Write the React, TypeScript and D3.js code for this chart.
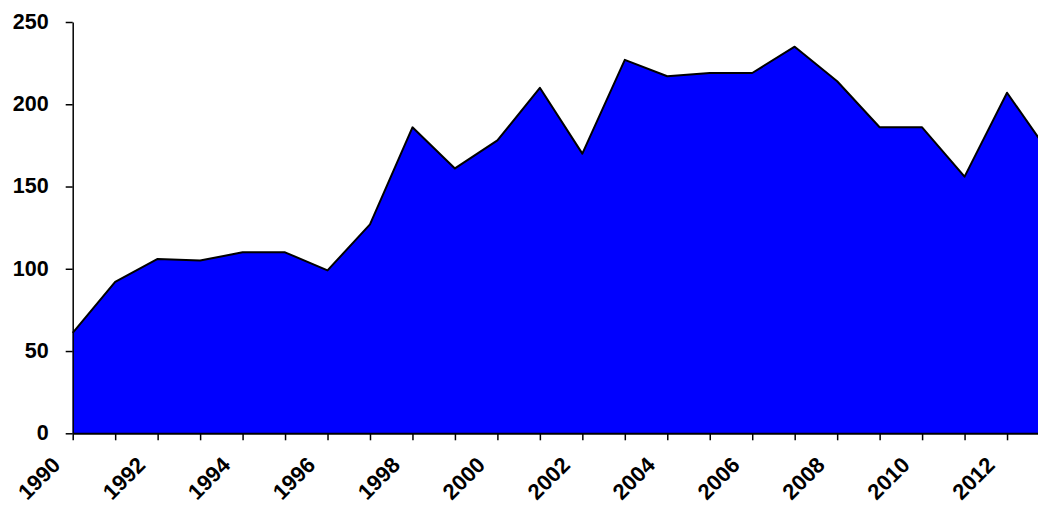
import { useEffect, useRef } from 'react';
import * as d3 from 'd3';

const years = [1990, 1991, 1992, 1993, 1994, 1995, 1996, 1997, 1998, 1999, 2000, 2001,
  2002, 2003, 2004, 2005, 2006, 2007, 2008, 2009, 2010, 2011, 2012, 2013];
const values = [61, 92, 106, 105, 110, 110, 99, 127, 186, 161, 178, 210,
  170, 227, 217, 219, 219, 235, 214, 186, 186, 156, 207, 170];
const yTicks = [0, 50, 100, 150, 200, 250];
const xLabels = [1990, 1992, 1994, 1996, 1998, 2000, 2002, 2004, 2006, 2008, 2010, 2012];

const App = () => {
  const svgRef = useRef<SVGSVGElement>(null);

  useEffect(() => {
    if (!svgRef.current) return;
    const svg = d3.select(svgRef.current);
    svg.selectAll('*').remove();

    const font = '"Liberation Sans", Arial, sans-serif';
    const left = 72.7;
    const step = 42.47;

    // x runs past the right edge, the last year gets clipped like the original
    const x = d3.scaleLinear()
      .domain([1990, 2013])
      .range([left, left + step * 23]);
    const y = d3.scaleLinear().domain([0, 250]).range([433.3, 22]);

    const area = d3.area<number>()
      .x((_, i) => x(years[i]))
      .y0(y(0))
      .y1(d => y(d));
    const line = d3.line<number>()
      .x((_, i) => x(years[i]))
      .y(d => y(d));

    svg.append('path')
      .attr('d', area(values) || '')
      .attr('fill', '#0000ff');
    svg.append('path')
      .attr('d', line(values) || '')
      .attr('fill', 'none')
      .attr('stroke', '#000')
      .attr('stroke-width', 2)
      .attr('stroke-linejoin', 'round');

    // y axis
    const yAxis = svg.append('g')
      .attr('transform', `translate(${left},0)`)
      .call(d3.axisLeft(y).tickValues(yTicks).tickSize(7).tickPadding(17).tickSizeOuter(0));
    yAxis.select('.domain').attr('stroke', '#000').attr('stroke-width', 1.5);
    yAxis.selectAll('.tick line').attr('stroke', '#000').attr('stroke-width', 1.5);
    yAxis.selectAll('.tick text')
      .attr('fill', '#000')
      .attr('dy', '0.3em')
      .style('font-family', font)
      .style('font-size', '21.5px')
      .style('font-weight', 'bold');

    // x axis
    const xAxis = svg.append('g')
      .attr('transform', `translate(0,${y(0)})`)
      .call(d3.axisBottom(x).tickValues(years).tickSize(7).tickFormat(() => '').tickSizeOuter(0));
    xAxis.select('.domain').attr('stroke', '#000').attr('stroke-width', 2);
    xAxis.selectAll('.tick line').attr('stroke', '#000').attr('stroke-width', 1.5);

    svg.append('g')
      .selectAll('text')
      .data(xLabels)
      .join('text')
      .attr('transform', d => `translate(${x(d) - 22},${y(0) + 22}) rotate(-45)`)
      .attr('text-anchor', 'end')
      .attr('dy', '0.71em')
      .attr('fill', '#000')
      .style('font-family', font)
      .style('font-size', '22px')
      .style('font-weight', 'bold')
      .text(d => d);
  }, []);

  return (
    <div style={{ position: 'absolute', left: 0, top: 0 }}>
      <svg ref={svgRef} width={1038} height={505} style={{ display: 'block' }} />
    </div>
  );
};

export default App;
